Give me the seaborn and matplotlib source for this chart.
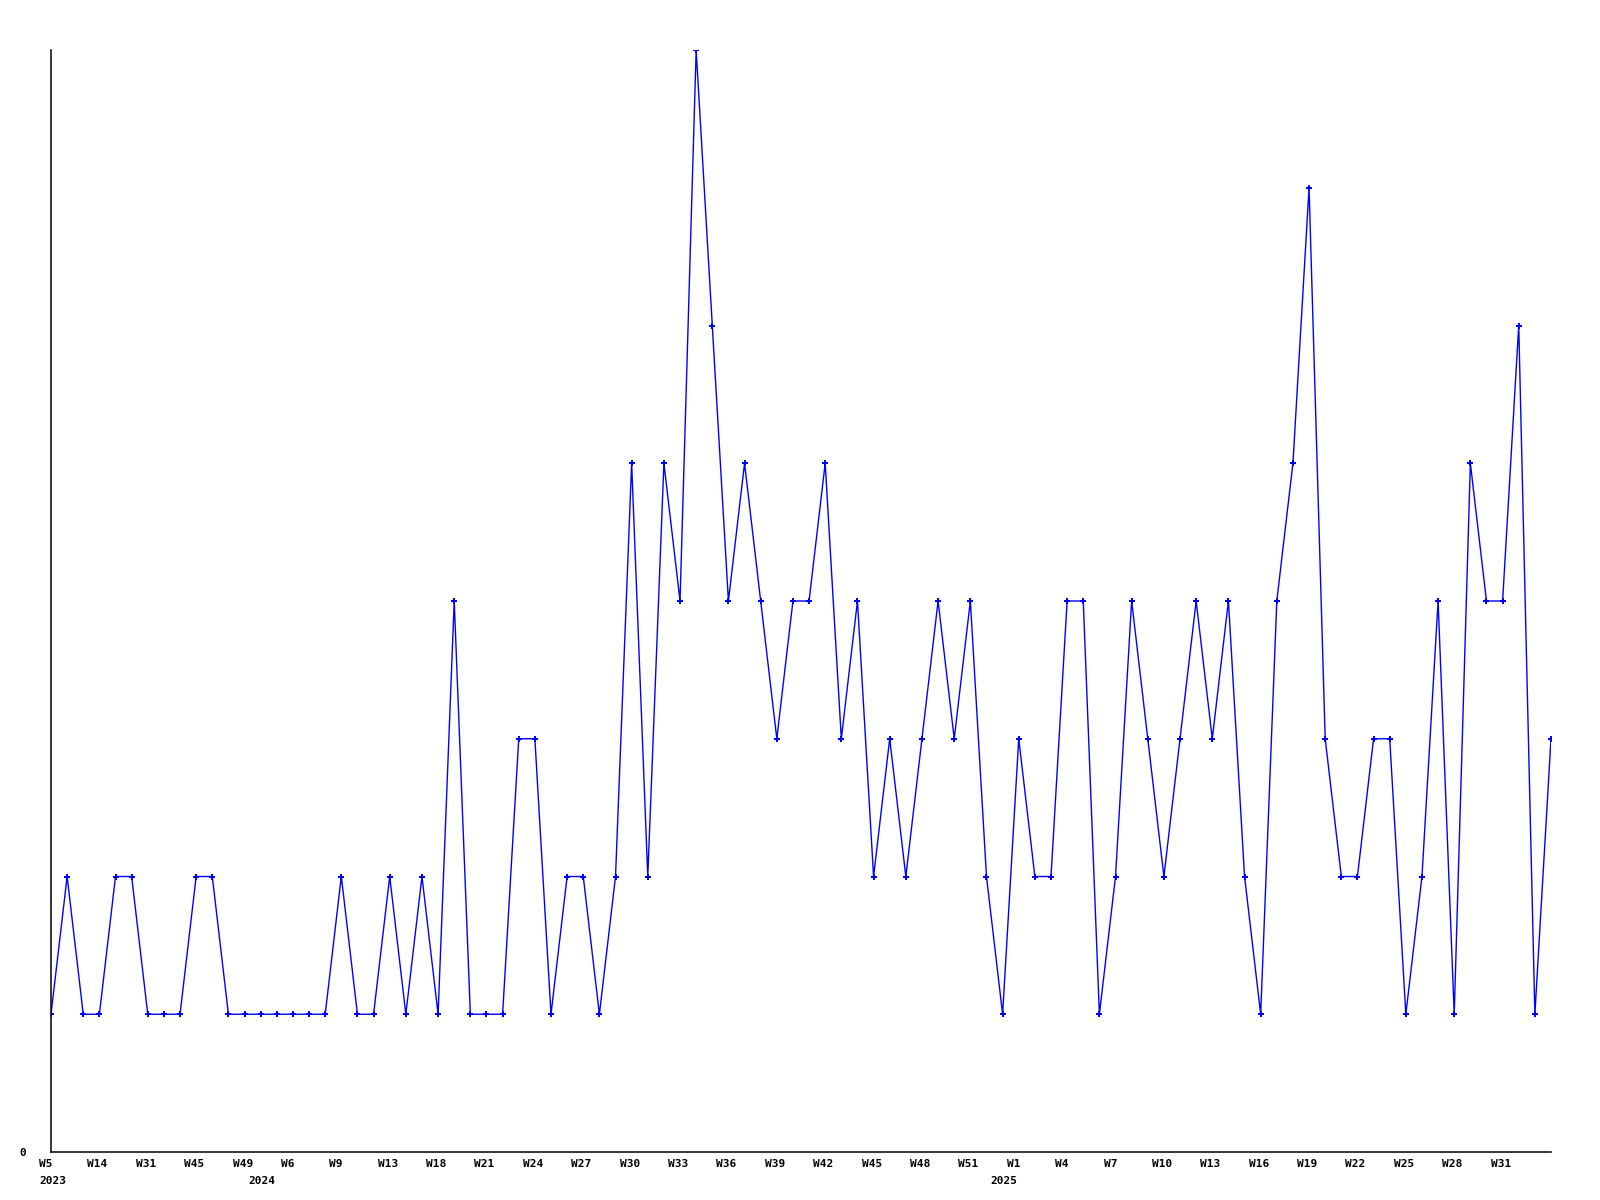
import numpy as np
import pandas as pd
import matplotlib
matplotlib.use("Agg")
import matplotlib.pyplot as plt
import seaborn as sns

# weekly counts, one per week in order
counts = [1, 2, 1, 1, 2, 2, 1, 1, 1, 2, 2, 1, 1, 1, 1, 1, 1, 1, 2, 1,
          1, 2, 1, 2, 1, 4, 1, 1, 1, 3, 3, 1, 2, 2, 1, 2, 5, 2, 5, 4,
          8, 6, 4, 5, 4, 3, 4, 4, 5, 3, 4, 2, 3, 2, 3, 4, 3, 4, 2, 1,
          3, 2, 2, 4, 4, 1, 2, 4, 3, 2, 3, 4, 3, 4, 2, 1, 4, 5, 7, 3,
          2, 2, 3, 3, 1, 2, 4, 1, 5, 4, 4, 6, 1, 3]

# labels shown on every third week
week_labels = ["W5", "W14", "W31", "W45", "W49", "W6", "W9", "W13", "W18", "W21",
               "W24", "W27", "W30", "W33", "W36", "W39", "W42", "W45", "W48", "W51",
               "W1", "W4", "W7", "W10", "W13", "W16", "W19", "W22", "W25", "W28", "W31"]

# first week index of each year
years = ["2023", "2024", "2025"]
year_start = [0, 13, 59]

df = pd.DataFrame({"week": np.arange(len(counts)), "count": counts})

sns.set_theme(style="white")
plt.rcParams["font.family"] = ["DejaVu Sans Mono", "DejaVu Sans"]
plt.rcParams["font.weight"] = "bold"
plt.rcParams["text.color"] = "black"
plt.rcParams["ytick.color"] = "black"

fig = plt.figure(figsize=(16, 12), dpi=100)
ax = fig.add_axes([51 / 1600, 48 / 1200, 1500 / 1600, 1102 / 1200])

sns.lineplot(data=df, x="week", y="count", color="#0000ff", linewidth=1,
             marker="P", markersize=5, markeredgewidth=0, ax=ax)

ax.set_xlim(0, len(counts) - 1)
ax.set_ylim(0, 8)
sns.despine(ax=ax)
for side in ["left", "bottom"]:
    ax.spines[side].set_color("black")
    ax.spines[side].set_linewidth(1.1)

ax.set_xlabel("")
ax.set_ylabel("")
ax.set_yticks([0])
ax.set_yticklabels(["0"], fontsize=8, fontweight="bold", color="black")
ax.tick_params(axis="y", length=0, pad=18)

# week labels, left aligned slightly before each point
ax.set_xticks([])
for i, lab in enumerate(week_labels):
    ax.annotate(lab, xy=(i * 3, 0), xycoords=("data", "axes fraction"),
                xytext=(-12 * 0.72, -12 * 0.72), textcoords="offset points",
                ha="left", va="center", fontsize=8, fontweight="bold",
                color="black", annotation_clip=False)
for yr, idx in zip(years, year_start):
    ax.annotate(yr, xy=(idx, 0), xycoords=("data", "axes fraction"),
                xytext=(-12 * 0.72, -29 * 0.72), textcoords="offset points",
                ha="left", va="center", fontsize=8, fontweight="bold",
                color="black", annotation_clip=False)

fig.savefig("out.png", dpi=100)
